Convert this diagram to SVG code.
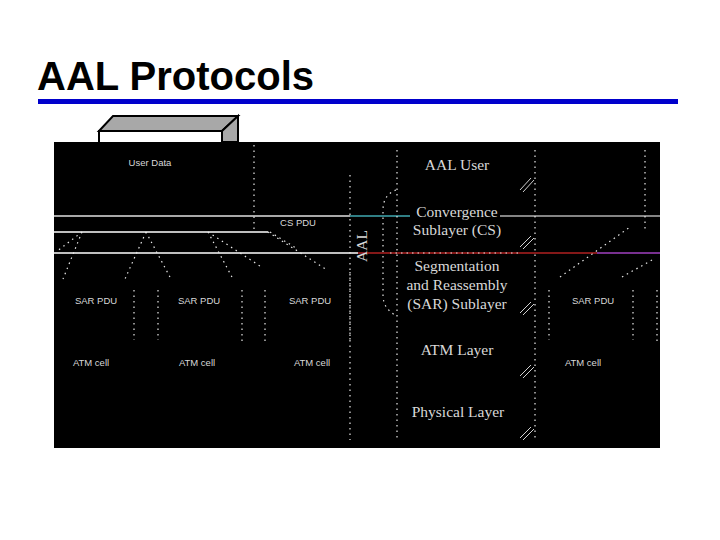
<svg xmlns="http://www.w3.org/2000/svg" width="720" height="540" viewBox="0 0 720 540">
<style>
.title{font-family:"Liberation Sans",Arial,sans-serif;font-weight:bold;font-size:40px;fill:#000}
.sm{font-family:"Liberation Sans",Arial,sans-serif;font-size:9.5px;fill:#d8d8d8;text-anchor:middle}
.lay{font-family:"Liberation Serif","Times New Roman",serif;font-size:15.5px;fill:#d8d8d8;text-anchor:middle}
.dot{stroke:#e8e8e8;stroke-width:1.2;stroke-dasharray:1.5 4;fill:none}
.sl{stroke:#d0d0d0;stroke-width:1;fill:none}
</style>
<rect width="720" height="540" fill="#fff"/>
<text class="title" x="37" y="90">AAL Protocols</text>
<rect x="38" y="99" width="640" height="5" fill="#0000cc"/>
<g id="userdata-box">
<polygon points="99,131 113,116 238,116 222,131" fill="#a8a8a8" stroke="#000" stroke-width="2"/>
<polygon points="222,131 238,116 238,142 222,142" fill="#a8a8a8" stroke="#000" stroke-width="2"/>
<rect x="99" y="131" width="123" height="14" fill="#fff" stroke="#000" stroke-width="2"/>
</g>
<rect x="54" y="142" width="606" height="306" fill="#000"/>
<g id="connectors">
<line x1="54" y1="216" x2="350" y2="216" stroke="#e0e0e0" stroke-width="1.5"/>
<line x1="350" y1="216" x2="410" y2="216" stroke="#40a8b0" stroke-width="1.5"/>
<line x1="500" y1="216" x2="660" y2="216" stroke="#b0b0b0" stroke-width="1.5"/>
<line x1="54" y1="232" x2="268" y2="232" stroke="#fff" stroke-width="1.5"/>
<line x1="54" y1="253" x2="358" y2="253" stroke="#fff" stroke-width="1.5"/>
<line x1="358" y1="253" x2="597" y2="253" stroke="#b02020" stroke-width="1.5"/>
<line x1="597" y1="253" x2="660" y2="253" stroke="#a040c0" stroke-width="1.5"/>
<path class="dot" d="M254,145 V230 M350,175 V440 M397,150 V440 M535,150 V440 M645,150 V230"/>
<path class="dot" d="M82,232 L63,279 M82,232 L56,252 M146,232 L125,279 M146,232 L171,279 M208,232 L233,279 M208,232 L263,268 M268,232 L327,270 M270,232 L296,248"/>
<path class="dot" d="M134,290 V340 M158,290 V340 M242,290 V345 M265,290 V345 M350,272 V340 M549,290 V340 M633,290 V340 M657,290 V345"/>
<path class="dot" d="M560,277 L630,227 M622,277 L652,260 M390,253 H520"/>
<path class="dot" d="M396,190 Q383,195 383,210 V295 Q383,308 395,315"/>
<path class="sl" d="M520,190 L531,178 M523,192 L534,180 M520,247 L531,236 M523,249 L534,238 M520,313 L531,302 M523,315 L534,304 M520,376 L531,365 M523,378 L534,367 M520,438 L531,427 M523,440 L534,429"/>
</g>
<g id="user-data"><text class="sm" x="150" y="166">User Data</text></g>
<g id="cs-pdu"><text class="sm" x="298" y="226">CS PDU</text></g>
<g id="sar-pdu-1"><text class="sm" x="96" y="304">SAR PDU</text></g>
<g id="sar-pdu-2"><text class="sm" x="199" y="304">SAR PDU</text></g>
<g id="sar-pdu-3"><text class="sm" x="310" y="304">SAR PDU</text></g>
<g id="sar-pdu-4"><text class="sm" x="593" y="304">SAR PDU</text></g>
<g id="atm-cell-1"><text class="sm" x="91" y="366">ATM cell</text></g>
<g id="atm-cell-2"><text class="sm" x="197" y="366">ATM cell</text></g>
<g id="atm-cell-3"><text class="sm" x="312" y="366">ATM cell</text></g>
<g id="atm-cell-4"><text class="sm" x="583" y="366">ATM cell</text></g>
<g id="aal-label"><text class="lay" transform="translate(367,246) rotate(-90)">AAL</text></g>
<g id="aal-user"><text class="lay" x="457" y="170">AAL User</text></g>
<g id="cs"><text class="lay" x="457" y="217">Convergence</text><text class="lay" x="457" y="235">Sublayer (CS)</text></g>
<g id="sar"><text class="lay" x="457" y="271">Segmentation</text><text class="lay" x="457" y="290">and Reassembly</text><text class="lay" x="457" y="309">(SAR) Sublayer</text></g>
<g id="atm-layer"><text class="lay" x="457" y="355">ATM Layer</text></g>
<g id="phy-layer"><text class="lay" x="458" y="417">Physical Layer</text></g>
</svg>
